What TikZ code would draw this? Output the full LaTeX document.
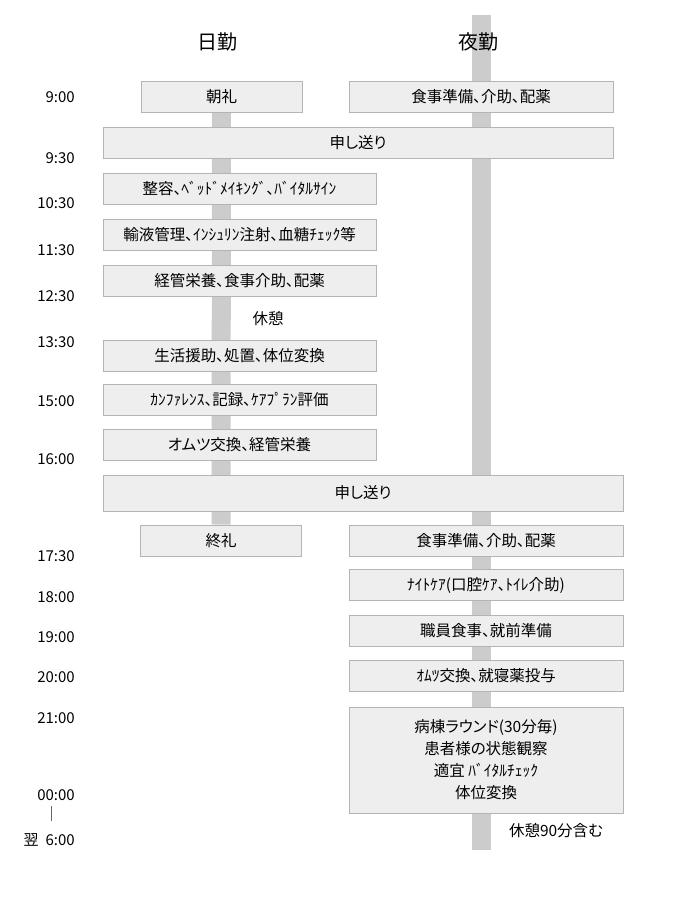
\documentclass[tikz,border=0pt]{standalone}
\usepackage{fontspec}
\setmainfont{Noto Sans CJK JP}[RawFeature=+palt]
\usetikzlibrary{positioning,backgrounds}

\definecolor{boxfill}{HTML}{EEEEEE}
\definecolor{boxline}{HTML}{B4B4B4}
\definecolor{barcol}{HTML}{CCCCCC}

\begin{document}
\begin{tikzpicture}[x=1pt,y=-1pt,
	task/.style={draw=boxline,fill=boxfill,line width=1pt,minimum height=31pt,inner sep=0pt,
		font=\fontsize{15.5}{17}\selectfont},
	shortbox/.style={task,minimum width=161pt},
	daybox/.style={task,minimum width=273pt},
	nightbox/.style={task,minimum width=274pt},
	time/.style={anchor=east,inner sep=0pt,font=\fontsize{15}{17}\selectfont},
	head/.style={inner sep=0pt,font=\fontsize{20}{22}\selectfont},
	bar/.style={barcol,line width=19pt}]
	\useasboundingbox (0,0) rectangle (680,900);

	% headings
	\draw (217,42) node [head] (nikkin){日勤};
	\draw (478,42) node [head] (yakin){夜勤};

	% night bar ends
	\coordinate (ntop) at (481,15);
	\coordinate (nbot) at (481,850);

	% boxes
	\draw (221.5,96.5) node [shortbox] (chorei){朝礼};
	\draw (481,96.5) node [task,minimum width=264pt] (shokuji1){食事準備、介助、配薬};
	\draw (358,142.5) node [task,minimum width=510pt] (okuri1){申し送り};
	\draw (239.5,188.5) node [daybox] (seiyo){整容、ﾍﾞｯﾄﾞﾒｲｷﾝｸﾞ、ﾊﾞｲﾀﾙｻｲﾝ};
	\draw (239.5,234.5) node [daybox] (yueki){輸液管理、ｲﾝｼｭﾘﾝ注射、血糖ﾁｪｯｸ等};
	\draw (239.5,280.5) node [daybox] (keikan){経管栄養、食事介助、配薬};
	\draw (268,319) node [inner sep=0pt,font=\fontsize{15.5}{17}\selectfont] (kyukei){休憩};
	\draw (239.5,355.5) node [daybox] (seikatsu){生活援助、処置、体位変換};
	\draw (239.5,399.5) node [daybox] (kanfa){ｶﾝﾌｧﾚﾝｽ、記録、ｹｱﾌﾟﾗﾝ評価};
	\draw (239.5,445) node [daybox] (omutsu1){オムツ交換、経管栄養};
	\draw (363,493) node [task,minimum width=520pt,minimum height=36pt] (okuri2){申し送り};
	\draw (221,540.5) node [shortbox] (shurei){終礼};
	\draw (486,540.5) node [nightbox] (shokuji2){食事準備、介助、配薬};
	\draw (486,585) node [nightbox] (naito){ﾅｲﾄｹｱ(口腔ｹｱ、ﾄｲﾚ介助)};
	\draw (486,630.5) node [nightbox] (shokuin){職員食事、就前準備};
	\draw (486,676) node [nightbox] (omutsu2){ｵﾑﾂ交換、就寝薬投与};
	\draw (486,760) node [nightbox,minimum height=106pt,align=center,
		font=\fontsize{15.5}{22}\selectfont] (round){病棟ラウンド(30分毎)\\患者様の状態観察\\適宜 ﾊﾞｲﾀﾙﾁｪｯｸ\\体位変換};
	\draw (556,831) node [inner sep=0pt,font=\fontsize{15.5}{17}\selectfont] (kyukei2){休憩90分含む};

	% bars behind the boxes
	\begin{scope}[on background layer]
		\draw [bar] (chorei.south) -- (shurei.north);
		\draw [bar] (ntop) -- (nbot);
	\end{scope}

	% times
	\draw (75,97) node [time] (t0900){9:00};
	\draw (75,158) node [time] (t0930){9:30};
	\draw (75,203) node [time] (t1030){10:30};
	\draw (75,250) node [time] (t1130){11:30};
	\draw (75,296) node [time] (t1230){12:30};
	\draw (75,342) node [time] (t1330){13:30};
	\draw (75,401) node [time] (t1500){15:00};
	\draw (75,459) node [time] (t1600){16:00};
	\draw (75,556) node [time] (t1730){17:30};
	\draw (75,597) node [time] (t1800){18:00};
	\draw (75,637) node [time] (t1900){19:00};
	\draw (75,677) node [time] (t2000){20:00};
	\draw (75,718) node [time] (t2100){21:00};
	\draw (75,795) node [time] (t0000){00:00};
	\draw (75,840) node [time] (t0600){翌\hspace{7pt}6:00};
	\draw [gray!80!black,line width=0.8pt] (t0000.south -| 51,0) ++(0,5) coordinate (bara) -- ++(0,15) coordinate (barb);
\end{tikzpicture}
\end{document}
